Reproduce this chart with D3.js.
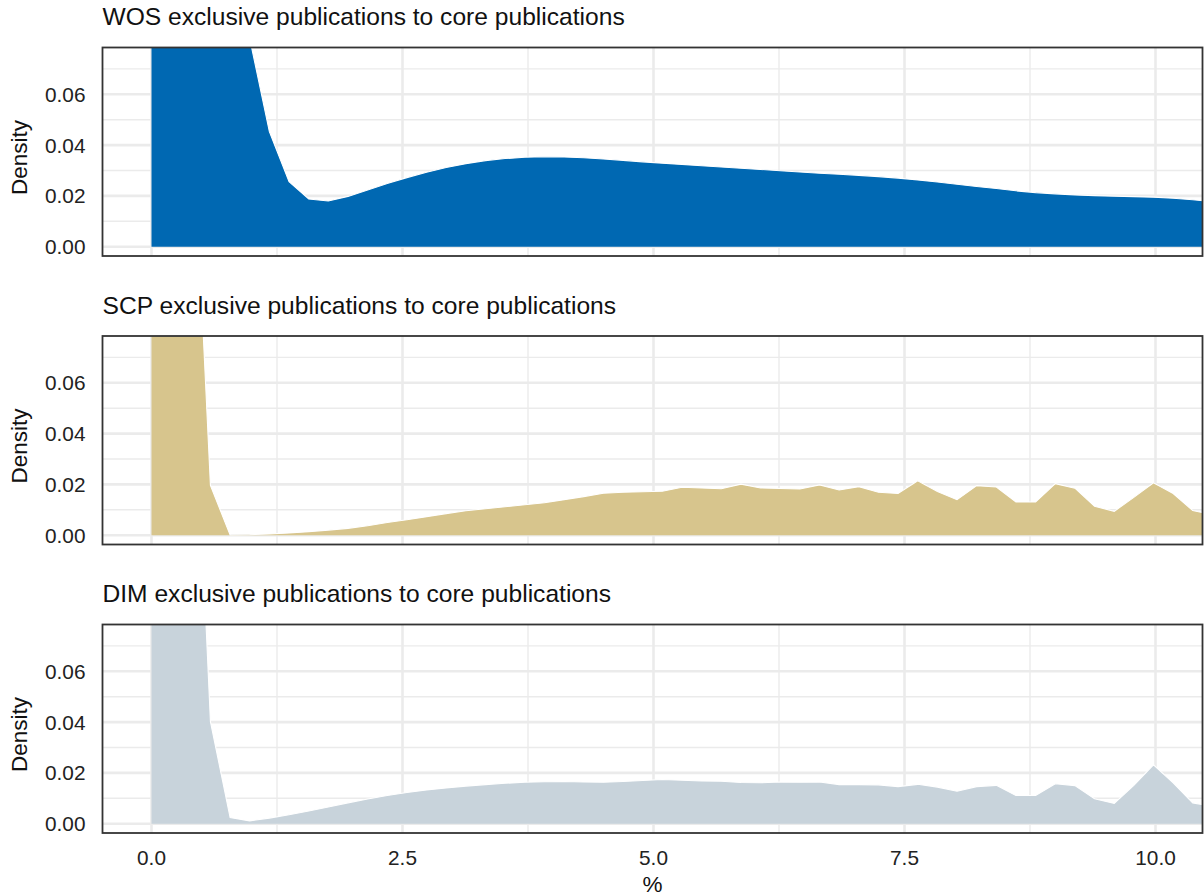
<!DOCTYPE html>
<html><head><meta charset="utf-8">
<script src="https://cdn.jsdelivr.net/npm/d3@7"></script>
<style>body{margin:0;background:#fff}svg{display:block;font-family:"Liberation Sans",Arial,sans-serif}</style>
</head><body><svg id="c" width="1204" height="896"></svg>
<script>
const xGrid = [0,0.196,0.391,0.587,0.783,0.978,1.174,1.370,1.566,1.761,1.957,2.153,2.348,2.544,2.740,2.935,3.131,3.327,3.522,3.718,3.914,4.110,4.305,4.501,4.697,4.892,5.088,5.284,5.479,5.675,5.871,6.067,6.262,6.458,6.654,6.849,7.045,7.241,7.436,7.632,7.828,8.023,8.219,8.415,8.610,8.806,9.002,9.197,9.393,9.589,9.784,9.980,10.176,10.371,10.567];
const wosDensity = [0.16,0.15,0.14,0.125,0.105,0.082,0.0453,0.0256,0.0188,0.0180,0.0198,0.0223,0.0249,0.0272,0.0293,0.0312,0.0327,0.0339,0.0347,0.0352,0.0354,0.0353,0.0350,0.0345,0.0340,0.0334,0.0329,0.0324,0.0319,0.0314,0.0309,0.0304,0.0299,0.0294,0.0289,0.0285,0.0281,0.0276,0.0270,0.0263,0.0255,0.0246,0.0237,0.0229,0.0220,0.0213,0.0208,0.0204,0.0201,0.0199,0.0197,0.0195,0.0191,0.0185,0.0178];
const scpDensity = [0.30,0.26,0.182,0.0196,0.0001,0.0002,0.0005,0.0009,0.0014,0.0020,0.0027,0.0037,0.0050,0.0061,0.0073,0.0085,0.0096,0.0104,0.0112,0.0120,0.0128,0.0140,0.0152,0.0165,0.0169,0.0171,0.0173,0.0189,0.0186,0.0183,0.0201,0.0186,0.0184,0.0182,0.0198,0.0178,0.0191,0.0169,0.0164,0.0214,0.0172,0.0140,0.0195,0.0190,0.0131,0.0131,0.0203,0.0185,0.0114,0.0094,0.0149,0.0206,0.0164,0.0097,0.0080];
const dimDensity = [0.30,0.28,0.211,0.0402,0.0024,0.0011,0.0022,0.0035,0.0050,0.0066,0.0082,0.0097,0.0111,0.0123,0.0133,0.0141,0.0148,0.0154,0.0159,0.0163,0.0165,0.0166,0.0164,0.0163,0.0166,0.0170,0.0174,0.0171,0.0168,0.0167,0.0162,0.0161,0.0164,0.0163,0.0164,0.0154,0.0154,0.0153,0.0146,0.0155,0.0144,0.0128,0.0146,0.0151,0.0111,0.0111,0.0157,0.0150,0.0098,0.0080,0.0151,0.0232,0.0161,0.0082,0.0068];
const panelTitles = ["WOS exclusive publications to core publications","SCP exclusive publications to core publications","DIM exclusive publications to core publications"];
const panelColors = ["#0068B2","#D7C58D","#C8D3DB"];
const xTicks = [0,2.5,5,7.5,10];
const xMinor = [1.25,3.75,6.25,8.75];
const yTicks = [0,0.02,0.04,0.06];
const yMinor = [0.01,0.03,0.05,0.07];

const series = [wosDensity, scpDensity, dimDensity];
const svg = d3.select("#c");
const left = 102.5, right = 1202.5;
const x = d3.scaleLinear().domain([0,10]).range([151.5,1155.5]);

series.forEach((vals, k) => {
  const top = 47.5 + k*288.5, h = 208.5, zero = top + 199.2;
  const y = d3.scaleLinear().domain([0,0.06]).range([zero, zero - 152.4]);
  const g = svg.append("g");
  const cid = "clip"+k;
  svg.append("clipPath").attr("id",cid).append("rect").attr("x",left).attr("y",top).attr("width",right-left).attr("height",h);
  const pg = g.append("g").attr("clip-path",`url(#${cid})`);
  pg.selectAll(".vmin").data(xMinor).join("line").attr("x1",d=>x(d)).attr("x2",d=>x(d)).attr("y1",top).attr("y2",top+h).attr("stroke","#EBEBEB").attr("stroke-width",1.4);
  pg.selectAll(".hmin").data(yMinor).join("line").attr("y1",d=>y(d)).attr("y2",d=>y(d)).attr("x1",left).attr("x2",right).attr("stroke","#EBEBEB").attr("stroke-width",1.4);
  pg.selectAll(".vmaj").data(xTicks).join("line").attr("x1",d=>x(d)).attr("x2",d=>x(d)).attr("y1",top).attr("y2",top+h).attr("stroke","#EBEBEB").attr("stroke-width",2.6);
  pg.selectAll(".hmaj").data(yTicks).join("line").attr("y1",d=>y(d)).attr("y2",d=>y(d)).attr("x1",left).attr("x2",right).attr("stroke","#EBEBEB").attr("stroke-width",2.6);
  const pts = xGrid.map((xv,i)=>[xv, vals[i]]);
  const area = d3.area().x(d=>x(d[0])).y0(y(0)).y1(d=>y(d[1]));
  const line = d3.line().x(d=>x(d[0])).y(d=>y(d[1]));
  pg.append("path").attr("d",area(pts)).attr("fill",panelColors[k]);
  pg.append("path").attr("d",line(pts)).attr("fill","none").attr("stroke","#fff").attr("stroke-width",1.1);
  g.append("rect").attr("x",left).attr("y",top).attr("width",right-left).attr("height",h).attr("fill","none").attr("stroke","#333").attr("stroke-width",1.8);
  g.selectAll(".yl").data(yTicks).join("text").attr("x",85.5).attr("y",d=>y(d)).attr("dy","0.36em").attr("text-anchor","end").attr("font-size",20.8).attr("fill","#222").text(d=>d3.format(".2f")(d));
  g.append("text").attr("transform",`translate(27,${top+110}) rotate(-90)`).attr("text-anchor","middle").attr("font-size",22.5).attr("fill","#111").text("Density");
  g.append("text").attr("x",102.5).attr("y",top-22.5).attr("font-size",24.6).attr("fill","#111").text(panelTitles[k]);
});
svg.selectAll(".xl").data(xTicks).join("text").attr("x",d=>x(d)).attr("y",858).attr("dy","0.36em").attr("text-anchor","middle").attr("font-size",20.8).attr("fill","#222").text(d=>d3.format(".1f")(d));
svg.append("text").attr("x",(left+right)/2).attr("y",884).attr("dy","0.36em").attr("text-anchor","middle").attr("font-size",22.5).attr("fill","#111").text("%");
</script></body></html>
